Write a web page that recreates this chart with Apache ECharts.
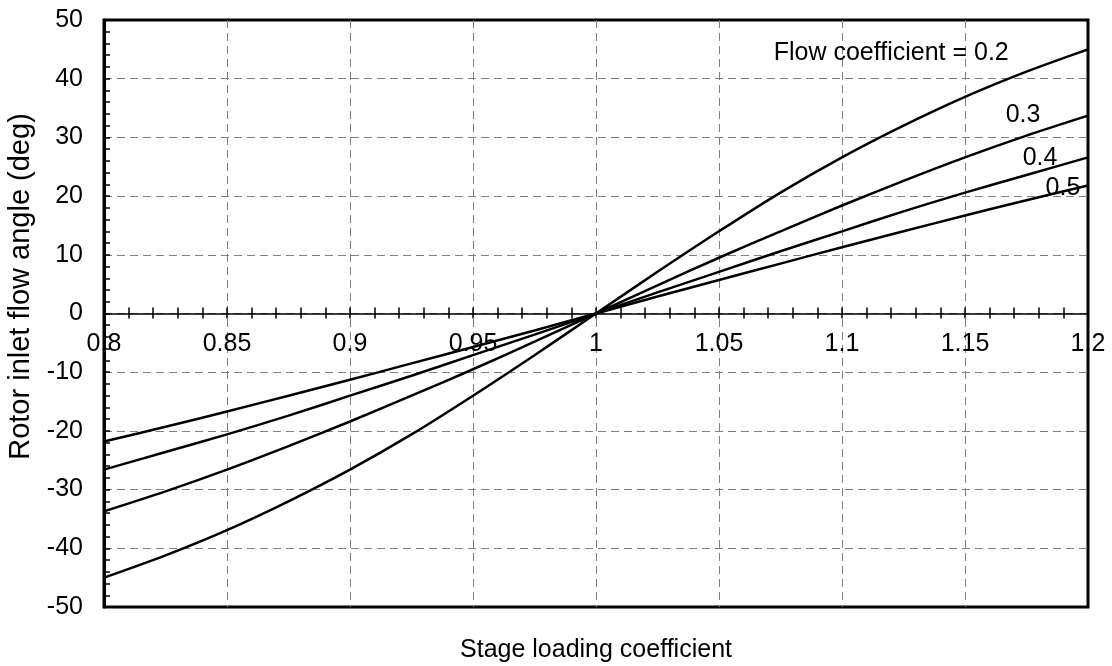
<!DOCTYPE html>
<html>
<head>
<meta charset="utf-8">
<script src="https://cdn.jsdelivr.net/npm/echarts@6/dist/echarts.min.js"></script>
<style>
  html, body { margin: 0; padding: 0; background: #fff; }
  #chart { width: 1112px; height: 666px; }
</style>
</head>
<body>
<div id="chart"></div>
<script>
// 级负荷系数（横轴）
const LOADING = [0.8, 0.825, 0.85, 0.875, 0.9, 0.925, 0.95, 0.975, 1,
  1.025, 1.05, 1.075, 1.1, 1.125, 1.15, 1.175, 1.2];

// 各流量系数下的转子进口气流角（deg）
const ANGLE_02 = [-45, -41.2, -36.9, -32.0, -26.6, -20.6, -14.0, -7.1, 0,
  7.1, 14.0, 20.6, 26.6, 32.0, 36.9, 41.2, 45];
const ANGLE_03 = [-33.7, -30.3, -26.6, -22.6, -18.4, -14.0, -9.5, -4.8, 0,
  4.8, 9.5, 14.0, 18.4, 22.6, 26.6, 30.3, 33.7];
const ANGLE_04 = [-26.6, -23.6, -20.6, -17.4, -14.0, -10.6, -7.1, -3.6, 0,
  3.6, 7.1, 10.6, 14.0, 17.4, 20.6, 23.6, 26.6];
const ANGLE_05 = [-21.8, -19.3, -16.7, -14.0, -11.3, -8.5, -5.7, -2.9, 0,
  2.9, 5.7, 8.5, 11.3, 14.0, 16.7, 19.3, 21.8];

// 曲线标注（数据坐标）
const NOTES = [
  { text: "Flow coefficient = 0.2", x: 1.120, y: 44.3 },
  { text: "0.3", x: 1.1736, y: 33.8 },
  { text: "0.4", x: 1.1805, y: 26.5 },
  { text: "0.5", x: 1.1898, y: 21.4 },
];

const FONT = "Liberation Sans";
const FONT_SIZE = 25;
const GRID_DASH = { color: "#7f7f7f", width: 1, type: [8, 5] };
const TICK = { color: "#000", width: 1.5 };

function curve(values) {
  return {
    type: "line",
    data: LOADING.map((x, i) => [x, values[i]]),
    smooth: 0.3,
    symbol: "none",
    lineStyle: { color: "#000", width: 2.5 },
    xAxisIndex: 0,
    yAxisIndex: 0,
    z: 5,
  };
}

const chart = echarts.init(document.getElementById("chart"));
chart.setOption({
  animation: false,
  textStyle: { fontFamily: FONT },
  grid: {
    left: 104, top: 20, width: 984, height: 587,
    outerBoundsMode: "none",
    containLabel: false,
    show: true, borderColor: "#000", borderWidth: 3, backgroundColor: "transparent",
  },
  xAxis: [
    {
      type: "value", min: 0.8, max: 1.2, interval: 0.05,
      position: "bottom",
      axisLine: { onZero: true, onZeroAxisIndex: 0, lineStyle: { color: "#000", width: 1.5 } },
      axisTick: { show: true, length: 5, lineStyle: TICK },
      minorTick: { show: true, splitNumber: 5, length: 5, lineStyle: TICK },
      // v6 里刻度标签留在网格底边，用负 margin 把它们挪到 0 线下方
      axisLabel: { color: "#000", fontSize: FONT_SIZE, margin: -275, showMinLabel: true, showMaxLabel: true },
      splitLine: { show: true, showMinLine: false, showMaxLine: false, lineStyle: GRID_DASH },
      name: "Stage loading coefficient",
      nameLocation: "middle",
      nameGap: 31,
      nameTextStyle: { color: "#000", fontSize: FONT_SIZE },
      z: 4,
    },
    {
      type: "value", min: 0.8, max: 1.2, interval: 0.05,
      position: "bottom",
      axisLine: { show: false, onZero: true, onZeroAxisIndex: 1 },
      axisTick: { show: true, inside: true, length: 6, lineStyle: TICK },
      minorTick: { show: true, splitNumber: 5, length: 6, lineStyle: TICK },
      axisLabel: { show: false },
      splitLine: { show: false },
      z: 4,
    },
  ],
  yAxis: [
    {
      type: "value", min: -50, max: 50, interval: 10,
      axisLine: { show: true, onZero: false, lineStyle: { color: "#000", width: 3 } },
      axisTick: { show: true, inside: true, length: 6, lineStyle: TICK },
      minorTick: { show: true, splitNumber: 5, length: 6, lineStyle: TICK },
      axisLabel: { color: "#000", fontSize: FONT_SIZE, margin: 21 },
      splitLine: { show: true, showMinLine: false, showMaxLine: false, lineStyle: GRID_DASH },
      name: "Rotor inlet flow angle (deg)",
      nameLocation: "middle",
      nameGap: 65,
      nameTextStyle: { color: "#000", fontSize: 29, padding: [0, 0, 0, 54] },
    },
    {
      type: "value", min: -50, max: 50, interval: 10,
      position: "left",
      axisLine: { show: false, onZero: false },
      axisTick: { show: false },
      axisLabel: { show: false },
      splitLine: { show: false },
    },
  ],
  series: [
    curve(ANGLE_02),
    curve(ANGLE_03),
    curve(ANGLE_04),
    curve(ANGLE_05),
    {
      type: "scatter",
      data: NOTES.map(n => ({ value: [n.x, n.y], name: n.text })),
      symbolSize: 0,
      silent: true,
      itemStyle: { color: "#000", opacity: 1 },
      label: {
        show: true, position: "inside", formatter: p => p.name,
        color: "#000", fontSize: FONT_SIZE, fontFamily: FONT,
      },
      z: 6,
    },
  ],
});
</script>
</body>
</html>
